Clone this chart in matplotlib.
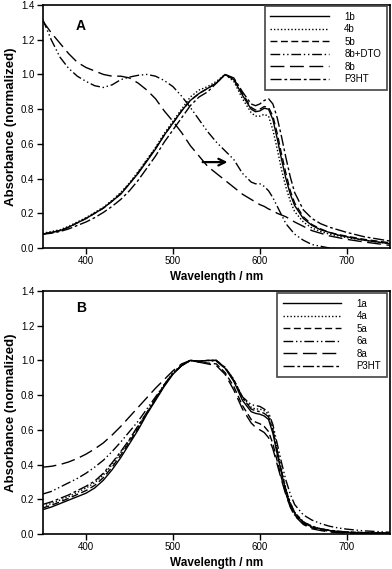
import matplotlib
matplotlib.use("Agg")
import matplotlib.pyplot as plt

plt.rcParams['font.family'] = ['Liberation Sans', 'DejaVu Sans']

# wavelength grid (nm)
wl = [350, 360, 370, 380, 390, 400, 410, 420, 430, 440, 450, 460, 470, 480,
      490, 500, 510, 520, 530, 540, 550, 560, 570, 580, 590, 595, 600, 605,
      610, 615, 620, 625, 630, 635, 640, 650, 660, 670, 680, 690, 700, 720, 750]

# panel A
a_1b = [.08, .09, .10, .12, .145, .17, .20, .23, .27, .31, .37, .43, .50, .57,
        .65, .72, .79, .85, .89, .92, .95, 1.0, .97, .88, .80, .785, .79, .805,
        .80, .74, .63, .51, .40, .31, .245, .17, .13, .105, .09, .075, .065, .045, .025]
a_4b = [.085, .095, .105, .125, .15, .175, .205, .235, .275, .32, .375, .44, .51, .58,
        .66, .73, .80, .87, .91, .93, .96, 1.0, .96, .86, .78, .76, .76, .77,
        .76, .68, .57, .45, .35, .27, .21, .15, .115, .095, .08, .07, .06, .045, .025]
a_5b = [.08, .09, .10, .12, .145, .17, .20, .23, .27, .315, .37, .435, .505, .575,
        .65, .72, .79, .85, .89, .92, .95, 1.0, .975, .89, .81, .795, .80, .815,
        .81, .76, .66, .54, .43, .33, .26, .18, .135, .11, .09, .078, .068, .05, .03]
a_8b_dto = [1.32, 1.20, 1.10, 1.035, .99, .96, .935, .925, .94, .97, .985, .995, 1.0, .99,
            .965, .93, .875, .81, .74, .67, .61, .56, .51, .43, .38, .37, .37, .355,
            .33, .29, .24, .19, .14, .11, .08, .045, .02, .01, .0, -.005, -.01, -.01, -.01]
a_8b = [1.31, 1.24, 1.18, 1.12, 1.07, 1.04, 1.02, 1.0, .99, .99, .98, .95, .91, .86,
        .79, .73, .665, .59, .53, .47, .43, .39, .35, .31, .28, .265, .25, .24,
        .225, .215, .20, .19, .18, .165, .15, .125, .10, .085, .07, .06, .05, .035, .015]
a_p3ht = [.08, .085, .095, .11, .13, .15, .175, .205, .24, .28, .33, .39, .46, .53,
          .61, .68, .75, .82, .87, .90, .95, 1.0, .98, .90, .83, .82, .83, .85,
          .86, .83, .75, .64, .52, .41, .32, .22, .17, .14, .12, .105, .09, .065, .04]

# panel B
b_1a = [.14, .155, .175, .195, .215, .235, .265, .31, .37, .44, .52, .60, .69, .77,
        .85, .92, .97, 1.0, .995, 1.0, 1.0, .955, .88, .77, .705, .695, .69, .68,
        .66, .58, .46, .35, .245, .17, .12, .065, .04, .03, .02, .015, .01, .007, .005]
b_4a = [.16, .175, .195, .215, .24, .265, .295, .34, .40, .47, .54, .62, .70, .78,
        .86, .93, .975, 1.0, .995, 1.0, 1.0, .96, .89, .79, .73, .72, .72, .71,
        .69, .61, .49, .37, .26, .18, .125, .07, .045, .03, .02, .015, .012, .008, .005]
b_5a = [.15, .165, .185, .205, .228, .25, .28, .325, .385, .455, .53, .61, .695, .775,
        .855, .925, .97, 1.0, .99, .985, .98, .93, .85, .74, .66, .645, .635, .62,
        .59, .52, .42, .32, .23, .16, .11, .06, .035, .025, .015, .01, .008, .005, .003]
b_6a = [.23, .245, .27, .295, .32, .35, .385, .425, .475, .53, .59, .65, .72, .79,
        .86, .925, .97, 1.0, .995, 1.0, .995, .955, .885, .79, .745, .74, .735, .72,
        .70, .63, .52, .41, .31, .23, .17, .11, .08, .06, .045, .035, .028, .018, .01]
b_8a = [.385, .39, .40, .415, .435, .46, .49, .525, .57, .62, .675, .73, .785, .84,
        .89, .94, .98, 1.0, .99, .98, .97, .92, .83, .72, .64, .615, .60, .585,
        .555, .49, .40, .31, .225, .155, .105, .055, .03, .02, .012, .008, .005, .003, .002]
b_p3ht = [.17, .185, .205, .225, .25, .275, .305, .35, .41, .475, .545, .625, .70, .78,
          .86, .925, .97, 1.0, .995, 1.0, 1.0, .96, .89, .785, .72, .71, .705, .695,
          .675, .60, .48, .36, .255, .18, .125, .07, .045, .03, .022, .016, .012, .008, .005]

labels_a = ['1b', '4b', '5b', '8b+DTO', '8b', 'P3HT']
labels_b = ['1a', '4a', '5a', '6a', '8a', 'P3HT']

styles = ['-', (0, (1, 1.5)), (0, (5, 2.5)), (0, (7, 2, 1, 2, 1, 2)),
          (0, (10, 4)), (0, (8, 2, 2, 2))]

fig = plt.figure(figsize=(3.92, 5.69), dpi=100)
ax_a = fig.add_axes([0.1085, 0.5641, 0.887, 0.4271])
ax_b = fig.add_axes([0.1085, 0.0615, 0.887, 0.4271])

panels = [
    (ax_a, [a_1b, a_4b, a_5b, a_8b_dto, a_8b, a_p3ht], labels_a, 'A', 1.28, 6),
    (ax_b, [b_1a, b_4a, b_5a, b_6a, b_8a, b_p3ht], labels_b, 'B', 1.30, 293),
]

for ax, series, labels, tag, tag_y, leg_top in panels:
    for ys, lab, ls in zip(series, labels, styles):
        ax.plot(wl, ys, color='black', lw=1.0, linestyle=ls, label=lab)
    ax.set_xlim(350, 750)
    ax.set_ylim(0, 1.4)
    ax.set_xticks([400, 500, 600, 700])
    ax.set_yticks([0.0, 0.2, 0.4, 0.6, 0.8, 1.0, 1.2, 1.4])
    ax.set_yticklabels(['0.0', '0.2', '0.4', '0.6', '0.8', '1.0', '1.2', '1.4'])
    ax.tick_params(direction='out', length=4, width=1, labelsize=7, pad=2,
                   top=False, right=False)
    for sp in ax.spines.values():
        sp.set_linewidth(1.2)
    ax.set_xlabel('Wavelength / nm', fontsize=8.5, fontweight='bold', labelpad=3)
    ax.set_ylabel('Absorbance (normalized)', fontsize=9.5, fontweight='bold', labelpad=3)
    ax.text(394, tag_y, tag, fontsize=10, fontweight='bold', ha='center', va='center')
    leg = ax.legend(loc='upper right', bbox_to_anchor=(387 / 392, 1 - leg_top / 569),
                    bbox_transform=fig.transFigure, borderaxespad=0, fontsize=7,
                    handlelength=6.0, handletextpad=1.6, labelspacing=0.25,
                    borderpad=0.6, fancybox=False, framealpha=1)
    leg.get_frame().set_edgecolor('#444444')
    leg.get_frame().set_linewidth(1.2)

ax_a.annotate('', xy=(566, 0.495), xytext=(531, 0.495),
              arrowprops=dict(arrowstyle='->', lw=1.6, color='black', mutation_scale=12))

fig.savefig('out.png', dpi=100)
